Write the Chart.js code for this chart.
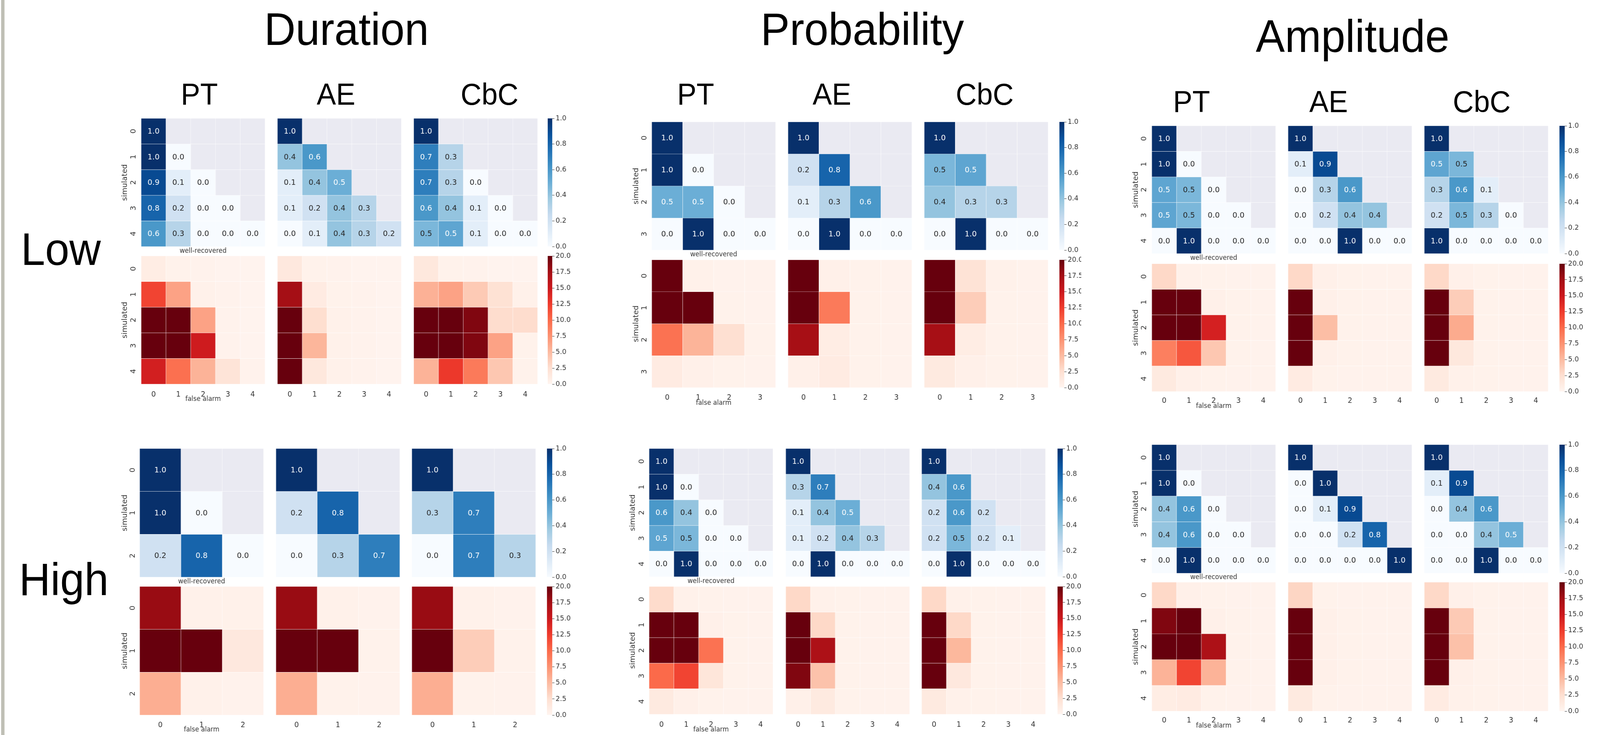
<!DOCTYPE html>
<html>
<head>
<meta charset="utf-8">
<script src="https://cdn.jsdelivr.net/npm/chart.js@4.4.0/dist/chart.umd.min.js"></script>
<style>
  html, body { margin: 0; background: #fff; overflow: hidden; }
  #fig { position: relative; width: 4262px; height: 1881px; overflow: hidden; background: #fff; transform-origin: 0 0; }
  .ttl { position: absolute; font-family: "Liberation Sans", Arial, sans-serif; line-height: 1; white-space: nowrap; color: #000; transform: translateX(-50%); }
  canvas { position: absolute; }
  .clip { position: absolute; overflow: hidden; }
  #edge { position: absolute; left: 3px; top: 0; width: 9px; height: 1881px; background: #bfbfb5; }
</style>
</head>
<body>
<div id="fig"><div id="edge"></div></div>
<script>
const parameters = ['Duration', 'Probability', 'Amplitude'];
const levels = ['Low', 'High'];
const methods = ['PT', 'AE', 'CbC'];
const recoveredTicks = [0, 0.2, 0.4, 0.6, 0.8, 1.0];
const falseAlarmTicks = [0, 2.5, 5, 7.5, 10, 12.5, 15, 17.5, 20];

// well-recovered share, lower triangle only (row = simulated)
const recDurLowPT = [[1.0], [1.0, 0.0], [0.9, 0.1, 0.0], [0.8, 0.2, 0.0, 0.0], [0.6, 0.3, 0.0, 0.0, 0.0]];
const recDurLowAE = [[1.0], [0.4, 0.6], [0.1, 0.4, 0.5], [0.1, 0.2, 0.4, 0.3], [0.0, 0.1, 0.4, 0.3, 0.2]];
const recDurLowCbC = [[1.0], [0.7, 0.3], [0.7, 0.3, 0.0], [0.6, 0.4, 0.1, 0.0], [0.46, 0.54, 0.1, 0.0, 0.0]];
const recDurHighPT = [[1.0], [1.0, 0.0], [0.2, 0.8, 0.0]];
const recDurHighAE = [[1.0], [0.2, 0.8], [0.0, 0.3, 0.7]];
const recDurHighCbC = [[1.0], [0.3, 0.7], [0.0, 0.7, 0.3]];
const recProbLowPT = [[1.0], [1.0, 0.0], [0.5, 0.5, 0.0], [0.0, 1.0, 0.0, 0.0]];
const recProbLowAE = [[1.0], [0.2, 0.8], [0.1, 0.3, 0.6], [0.0, 1.0, 0.0, 0.0]];
const recProbLowCbC = [[1.0], [0.46, 0.54], [0.4, 0.3, 0.3], [0.0, 1.0, 0.0, 0.0]];
const recProbHighPT = [[1.0], [1.0, 0.0], [0.6, 0.4, 0.0], [0.54, 0.46, 0.0, 0.0], [0.0, 1.0, 0.0, 0.0, 0.0]];
const recProbHighAE = [[1.0], [0.3, 0.7], [0.1, 0.4, 0.5], [0.1, 0.2, 0.4, 0.3], [0.0, 1.0, 0.0, 0.0, 0.0]];
const recProbHighCbC = [[1.0], [0.4, 0.6], [0.2, 0.6, 0.2], [0.2, 0.46, 0.2, 0.1], [0.0, 1.0, 0.0, 0.0, 0.0]];
const recAmpLowPT = [[1.0], [1.0, 0.0], [0.54, 0.46, 0.0], [0.54, 0.46, 0.0, 0.0], [0.0, 1.0, 0.0, 0.0, 0.0]];
const recAmpLowAE = [[1.0], [0.1, 0.9], [0.0, 0.3, 0.6], [0.0, 0.2, 0.4, 0.4], [0.0, 0.0, 1.0, 0.0, 0.0]];
const recAmpLowCbC = [[1.0], [0.54, 0.46], [0.3, 0.6, 0.1], [0.2, 0.46, 0.3, 0.0], [1.0, 0.0, 0.0, 0.0, 0.0]];
const recAmpHighPT = [[1.0], [1.0, 0.0], [0.4, 0.6, 0.0], [0.4, 0.6, 0.0, 0.0], [0.0, 1.0, 0.0, 0.0, 0.0]];
const recAmpHighAE = [[1.0], [0.0, 1.0], [0.0, 0.1, 0.9], [0.0, 0.0, 0.2, 0.8], [0.0, 0.0, 0.0, 0.0, 1.0]];
const recAmpHighCbC = [[1.0], [0.1, 0.9], [0.0, 0.4, 0.6], [0.0, 0.0, 0.4, 0.5], [0.0, 0.0, 1.0, 0.0, 0.0]];

// false alarms (full matrix, colour scale capped at 20)
const faDurLowPT = [[1, 0.4, 0.3, 0.2, 0.2], [12, 6.5, 0.5, 0.3, 0.2], [20, 20, 6.5, 0.3, 0.2], [20, 20, 14.8, 0.3, 0.2], [14.5, 9.6, 5.5, 2, 0.3]];
const faDurLowAE = [[1.5, 0.4, 0.3, 0.2, 0.2], [17.5, 1.2, 0.4, 0.3, 0.2], [20, 2.6, 0.5, 0.3, 0.2], [20, 5.3, 0.5, 0.3, 0.2], [20, 1.6, 0.5, 0.3, 0.2]];
const faDurLowCbC = [[1.6, 0.4, 0.3, 0.2, 0.2], [5.6, 6.5, 4, 2.3, 0.5], [20, 20, 19, 2.7, 2.7], [20, 20, 19, 6.5, 0.4], [5.5, 12.7, 9, 4.2, 0.4]];
const faDurHighPT = [[18, 0.5, 0.5], [20, 20, 1.5], [5.8, 0.5, 0.3]];
const faDurHighAE = [[18, 0.5, 0.3], [20, 20, 0.4], [5.8, 0.4, 0.3]];
const faDurHighCbC = [[18, 0.5, 0.3], [20, 3.8, 0.4], [5.8, 0.4, 0.3]];
const faProbLowPT = [[20, 0.5, 0.3, 0.3], [20, 20, 0.4, 0.3], [9.5, 5.4, 2.5, 0.4], [1.2, 0.6, 0.4, 0.3]];
const faProbLowAE = [[20, 0.6, 0.4, 0.3], [20, 9, 0.4, 0.3], [17.4, 1, 0.4, 0.3], [0.6, 1.2, 0.4, 0.3]];
const faProbLowCbC = [[20, 2.2, 0.5, 0.3], [20, 3.8, 0.4, 0.3], [17.4, 1, 0.4, 0.3], [1.3, 0.6, 0.4, 0.3]];
const faProbHighPT = [[2.8, 0.5, 0.4, 0.3, 0.3], [20, 20, 0.6, 0.4, 0.3], [20, 20, 9.5, 0.4, 0.3], [10, 12, 1.8, 0.4, 0.3], [1.3, 0.6, 0.4, 0.3, 0.3]];
const faProbHighAE = [[3, 0.5, 0.4, 0.3, 0.3], [20, 3, 0.4, 0.3, 0.3], [20, 17, 0.4, 0.3, 0.3], [19, 4.5, 0.4, 0.3, 0.3], [0.6, 1.3, 0.4, 0.3, 0.3]];
const faProbHighCbC = [[3, 0.5, 0.4, 0.3, 0.3], [20, 3, 0.4, 0.3, 0.3], [20, 5.2, 0.4, 0.3, 0.3], [20, 1.5, 0.4, 0.3, 0.3], [1.3, 0.5, 0.4, 0.3, 0.3]];
const faAmpLowPT = [[3, 0.5, 0.4, 0.3, 0.3], [20, 20, 0.6, 0.4, 0.3], [20, 20, 14.4, 0.4, 0.3], [8.7, 11, 4.2, 0.4, 0.3], [1.3, 0.6, 0.4, 0.3, 0.3]];
const faAmpLowAE = [[3, 0.6, 0.4, 0.3, 0.3], [20, 0.6, 0.4, 0.3, 0.3], [20, 4.8, 0.4, 0.3, 0.3], [20, 0.6, 0.4, 0.3, 0.3], [1.2, 0.4, 0.3, 0.3, 0.3]];
const faAmpLowCbC = [[3, 0.6, 0.4, 0.3, 0.3], [20, 3.8, 0.4, 0.3, 0.3], [20, 6, 0.4, 0.3, 0.3], [20, 1.6, 0.4, 0.3, 0.3], [1.3, 0.5, 0.4, 0.3, 0.3]];
const faAmpHighPT = [[3, 0.6, 0.4, 0.3, 0.3], [19, 20, 0.6, 0.4, 0.3], [20, 20, 17, 0.4, 0.3], [5.5, 12, 5.5, 0.4, 0.3], [1, 1.2, 0.4, 0.3, 0.3]];
const faAmpHighAE = [[3.2, 0.4, 0.3, 0.3, 0.3], [20, 0.6, 0.4, 0.3, 0.3], [20, 0.6, 0.4, 0.3, 0.3], [20, 0.6, 0.4, 0.3, 0.3], [1.3, 0.4, 0.3, 0.3, 0.3]];
const faAmpHighCbC = [[3, 0.6, 0.4, 0.3, 0.3], [20, 4, 0.4, 0.3, 0.3], [20, 4.6, 0.4, 0.3, 0.3], [20, 0.6, 0.4, 0.3, 0.3], [1.2, 0.5, 0.4, 0.3, 0.3]];

// lookup tables built from the arrays above
const recovered = {
  'Duration-Low': [recDurLowPT, recDurLowAE, recDurLowCbC],
  'Duration-High': [recDurHighPT, recDurHighAE, recDurHighCbC],
  'Probability-Low': [recProbLowPT, recProbLowAE, recProbLowCbC],
  'Probability-High': [recProbHighPT, recProbHighAE, recProbHighCbC],
  'Amplitude-Low': [recAmpLowPT, recAmpLowAE, recAmpLowCbC],
  'Amplitude-High': [recAmpHighPT, recAmpHighAE, recAmpHighCbC]
};
const falseAlarms = {
  'Duration-Low': [faDurLowPT, faDurLowAE, faDurLowCbC],
  'Duration-High': [faDurHighPT, faDurHighAE, faDurHighCbC],
  'Probability-Low': [faProbLowPT, faProbLowAE, faProbLowCbC],
  'Probability-High': [faProbHighPT, faProbHighAE, faProbHighCbC],
  'Amplitude-Low': [faAmpLowPT, faAmpLowAE, faAmpLowCbC],
  'Amplitude-High': [faAmpHighPT, faAmpHighAE, faAmpHighCbC]
};

// where each panel sits on the 4262x1881 page
const panelGeo = {
  'Duration-Low': { cols: [376, 739, 1102], w: 330, cbar: [1459, 12], blue: [303, 631], red: [655, 983], wr: 643, xt: 1002, fa: 1022, simX: 333, tickX: 356 },
  'Duration-High': { cols: [372, 735, 1097], w: 330, cbar: [1457, 14], blue: [1148, 1477], red: [1501, 1830], wr: 1489, xt: 1848, fa: 1868, simX: 333, tickX: 354 },
  'Probability-Low': { cols: [1736, 2099, 2462], w: 330, cbar: [2822, 13], blue: [312, 640], red: [665, 992], wr: 652, xt: 1010, fa: 1032, simX: 1695, tickX: 1717, redClip: 2880 },
  'Probability-High': { cols: [1729, 2093, 2455], w: 330, cbar: [2817, 14], blue: [1148, 1476], red: [1501, 1828], wr: 1488, xt: 1847, fa: 1868, simX: 1686, tickX: 1710 },
  'Amplitude-Low': { cols: [3068, 3431, 3794], w: 330, cbar: [4154, 14], blue: [322, 649], red: [675, 1002], wr: 661, xt: 1018, fa: 1040, simX: 3026, tickX: 3048 },
  'Amplitude-High': { cols: [3068, 3431, 3794], w: 330, cbar: [4154, 14], blue: [1138, 1467], red: [1490, 1820], wr: 1478, xt: 1836, fa: 1858, simX: 3026, tickX: 3048 }
};
const titleGeo = { Duration: [923, 115], Probability: [2297, 115], Amplitude: [3603, 133] };
const methodGeo = { Duration: [[531, 895, 1304], 268], Probability: [[1853, 2216, 2623], 268], Amplitude: [[3174, 3539, 3947], 287] };
const levelGeo = { Low: [162, 678], High: [170, 1523] };

const BLUES = ['#f7fbff', '#deebf7', '#c6dbef', '#9ecae1', '#6baed6', '#4292c6', '#2171b5', '#08519c', '#08306b'];
const REDS = ['#fff5f0', '#fee0d2', '#fcbba1', '#fc9272', '#fb6a4a', '#ef3b2c', '#cb181d', '#a50f15', '#67000d'];
const MASK = '#eaeaf2';
const TEXT = '#333333';

Chart.defaults.font.family = '"DejaVu Sans", sans-serif';
Chart.defaults.color = TEXT;
Chart.defaults.plugins.legend.display = false;
Chart.defaults.plugins.tooltip.enabled = false;

const fig = document.getElementById('fig');
// the viewport may be narrower than 4262, so squeeze the figure to fit it
fig.style.transform = `scale(${window.innerWidth / 4262}, ${window.innerHeight / 1881})`;

function hexRgb(h) {
  return [1, 3, 5].map(k => parseInt(h.slice(k, k + 2), 16));
}

function cmap(stops, t) {
  t = Math.max(0, Math.min(1, t));
  const p = t * (stops.length - 1);
  const k = Math.min(Math.floor(p), stops.length - 2);
  const f = p - k;
  const a = hexRgb(stops[k]), b = hexRgb(stops[k + 1]);
  return a.map((c, i) => Math.round(c + (b[i] - c) * f));
}

function css(rgb) {
  return `rgb(${rgb[0]},${rgb[1]},${rgb[2]})`;
}

// seaborn's rule for dark or white annotation text
function textFor(rgb) {
  const lin = rgb.map(c => {
    c /= 255;
    return c <= 0.03928 ? c / 12.92 : Math.pow((c + 0.055) / 1.055, 2.4);
  });
  const lum = 0.2126 * lin[0] + 0.7152 * lin[1] + 0.0722 * lin[2];
  return lum > 0.408 ? '#262626' : '#ffffff';
}

function addText(txt, cx, baseline, size) {
  const d = document.createElement('div');
  d.className = 'ttl';
  d.textContent = txt;
  d.style.fontSize = size + 'px';
  d.style.left = cx + 'px';
  d.style.top = (baseline - 0.8465 * size) + 'px';
  fig.appendChild(d);
}

const annotate = {
  id: 'annotate',
  afterDatasetsDraw(chart, args, opts) {
    if (!opts.on) return;
    const ctx = chart.ctx;
    ctx.save();
    ctx.font = `${opts.size}px "DejaVu Sans"`;
    ctx.textAlign = 'center';
    ctx.textBaseline = 'middle';
    chart.data.datasets.forEach((ds, i) => {
      chart.getDatasetMeta(i).data.forEach((bar, j) => {
        const v = ds.cellValues[j];
        if (v == null) return;
        const c = bar.getCenterPoint();
        ctx.fillStyle = ds.textColors[j];
        ctx.fillText(v.toFixed(1), c.x, c.y + 1);
      });
    });
    ctx.restore();
  }
};

function heatChart(values, geo, col, isRec) {
  const n = values.length;
  const idx = values.map((_, i) => i);
  const [top, bottom] = isRec ? geo.blue : geo.red;
  const cellL = geo.cols[col];
  const cellW = geo.w;
  const cellH = bottom - top;
  const first = col === 0;
  const tickSize = 19, titleSize = 17, simSize = 19;
  const titleCenter = isRec ? geo.wr : geo.fa;
  const H = Math.round(titleCenter - bottom + titleSize * 1.2 / 2);
  const axisW = first ? Math.round(cellL - (geo.simX - simSize * 1.2 / 2)) : 0;
  const PT = 16, PR = 2;

  const canvas = document.createElement('canvas');
  canvas.width = axisW + cellW + PR;
  canvas.height = PT + cellH + H;
  canvas.style.left = (cellL - axisW) + 'px';
  canvas.style.top = (top - PT) + 'px';
  fig.appendChild(canvas);

  const stops = isRec ? BLUES : REDS;
  const vmax = isRec ? 1 : 20;
  const datasets = idx.map(i => {
    const vals = idx.map(j => (values[i][j] === undefined ? null : values[i][j]));
    const rgbs = vals.map(v => (v == null ? null : cmap(stops, v / vmax)));
    return {
      data: idx.map(() => [i, i + 1]),
      cellValues: isRec ? vals : [],
      textColors: rgbs.map(c => (c ? textFor(c) : null)),
      backgroundColor: rgbs.map(c => (c ? css(c) : MASK)),
      borderColor: '#ffffff',
      borderWidth: 0.7,
      borderSkipped: false,
      grouped: false,
      barPercentage: 1,
      categoryPercentage: 1
    };
  });

  new Chart(canvas, {
    type: 'bar',
    data: { labels: idx.map(String), datasets },
    options: {
      responsive: false,
      animation: false,
      devicePixelRatio: 1,
      layout: { padding: { top: PT, right: PR, left: 0, bottom: 0 } },
      plugins: { annotate: { on: isRec, size: 20 } },
      scales: {
        x: {
          type: 'category',
          offset: true,
          afterFit: s => { s.height = H; },
          ticks: {
            display: !isRec,
            padding: Math.round(geo.xt - bottom - tickSize * 0.6),
            font: { size: tickSize },
            color: TEXT,
            maxRotation: 0,
            autoSkip: false
          },
          grid: { display: false },
          border: { display: false },
          title: { display: first, text: isRec ? 'well-recovered' : 'false alarm', font: { size: titleSize }, color: TEXT, padding: 0 }
        },
        y: {
          type: 'linear',
          reverse: true,
          min: 0,
          max: n,
          display: first,
          afterBuildTicks: s => { s.ticks = idx.map(i => ({ value: i + 0.5 })); },
          afterFit: s => { s.width = axisW; },
          ticks: {
            display: first,
            minRotation: 90,
            maxRotation: 90,
            crossAlign: 'center',
            padding: 0,
            font: { size: tickSize },
            color: TEXT,
            callback: v => String(Math.round(v - 0.5))
          },
          grid: {
            display: true,
            drawOnChartArea: false,
            drawTicks: true,
            tickLength: Math.max(0, cellL - geo.tickX - 0.32 * tickSize),
            color: 'rgba(0,0,0,0)'
          },
          border: { display: false },
          title: { display: first, text: 'simulated', font: { size: simSize }, color: TEXT, padding: 0 }
        }
      }
    },
    plugins: [annotate]
  });
}

function colorBar(geo, isRec) {
  const [top, bottom] = isRec ? geo.blue : geo.red;
  const [cl, cw] = geo.cbar;
  const PT = 16, labW = 80;
  const h = bottom - top;
  const stops = isRec ? BLUES : REDS;
  const vmax = isRec ? 1 : 20;
  const tickVals = isRec ? recoveredTicks : falseAlarmTicks;

  const wrap = document.createElement('div');
  wrap.className = 'clip';
  wrap.style.left = cl + 'px';
  wrap.style.top = (top - PT) + 'px';
  wrap.style.width = ((!isRec && geo.redClip) ? geo.redClip - cl : cw + labW) + 'px';
  wrap.style.height = (h + 2 * PT) + 'px';
  const canvas = document.createElement('canvas');
  canvas.width = cw + labW;
  canvas.height = h + 2 * PT;
  canvas.style.left = '0px';
  canvas.style.top = '0px';
  wrap.appendChild(canvas);
  fig.appendChild(wrap);

  new Chart(canvas, {
    type: 'bar',
    data: {
      labels: [''],
      datasets: [{
        data: [[0, vmax]],
        borderWidth: 0,
        barPercentage: 1,
        categoryPercentage: 1,
        backgroundColor: ctx => {
          const area = ctx.chart.chartArea;
          if (!area) return css(cmap(stops, 0.5));
          const g = ctx.chart.ctx.createLinearGradient(0, area.bottom, 0, area.top);
          stops.forEach((c, k) => g.addColorStop(k / (stops.length - 1), c));
          return g;
        }
      }]
    },
    options: {
      responsive: false,
      animation: false,
      devicePixelRatio: 1,
      layout: { padding: { top: PT, bottom: PT, left: 0, right: 0 } },
      scales: {
        x: { display: false },
        y: {
          position: 'right',
          min: 0,
          max: vmax,
          afterBuildTicks: s => { s.ticks = tickVals.map(v => ({ value: v })); },
          afterFit: s => { s.width = labW; },
          ticks: { callback: v => v.toFixed(1), font: { size: 18 }, color: TEXT, padding: 3 },
          grid: { drawOnChartArea: false, drawTicks: true, tickLength: 6, color: TEXT, lineWidth: 1 },
          border: { display: false }
        }
      }
    }
  });
}

parameters.forEach(p => {
  addText(p, titleGeo[p][0], titleGeo[p][1], 116);
  methods.forEach((m, k) => addText(m, methodGeo[p][0][k], methodGeo[p][1], 77));
  levels.forEach(l => {
    const key = p + '-' + l;
    const geo = panelGeo[key];
    methods.forEach((m, k) => {
      heatChart(recovered[key][k], geo, k, true);
      heatChart(falseAlarms[key][k], geo, k, false);
    });
    colorBar(geo, true);
    colorBar(geo, false);
  });
});
levels.forEach(l => addText(l, levelGeo[l][0], levelGeo[l][1], 116));
</script>
</body>
</html>
